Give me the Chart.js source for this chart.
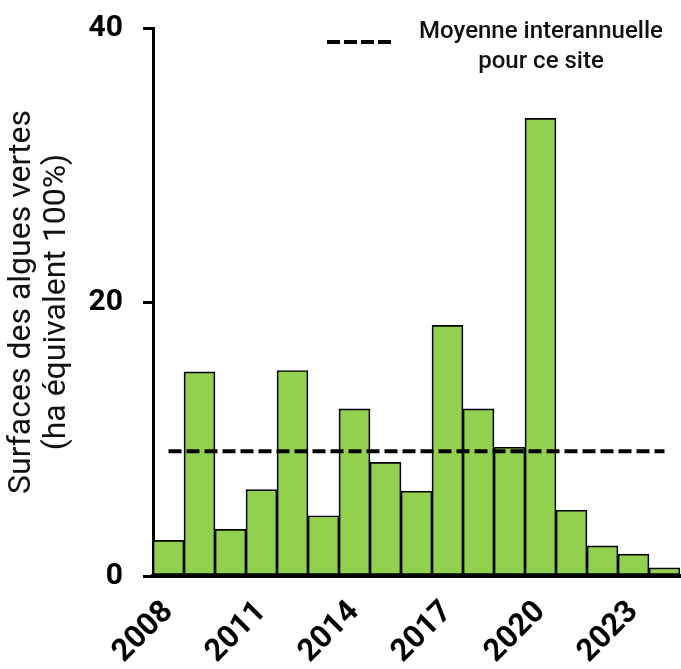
<!DOCTYPE html>
<html>
<head>
<meta charset="utf-8">
<script src="https://cdn.jsdelivr.net/npm/chart.js@4"></script>
<style>
    html, body { margin: 0; padding: 0; background: #fff; }
    #wrap { width: 681px; height: 669px; }
</style>
</head>
<body>
<div id="wrap"><canvas id="chart" width="681" height="669"></canvas></div>
<script>
// Chart data
const years = ['2008', '2009', '2010', '2011', '2012', '2013', '2014', '2015', '2016',
               '2017', '2018', '2019', '2020', '2021', '2022', '2023', '2024'];
const surfaces = [2.6, 14.9, 3.4, 6.3, 15.0, 4.4, 12.2, 8.3, 6.2,
                  18.3, 12.2, 9.4, 33.4, 4.8, 2.2, 1.6, 0.6];
const meanValue = 9.1;
const yTicks = [0, 20, 40];
const yTitle = ['Surfaces des algues vertes', '(ha équivalent 100%)'];
const legendLines = ['Moyenne interannuelle', 'pour ce site'];

// Draw the little dashed legend at the top right
const meanLegend = {
    id: 'meanLegend',
    afterDraw(chart) {
        const ctx = chart.ctx;
        ctx.save();
        ctx.strokeStyle = '#000';
        ctx.lineWidth = 4;
        ctx.setLineDash([13, 4]);
        ctx.beginPath();
        ctx.moveTo(327, 42);
        ctx.lineTo(391, 42);
        ctx.stroke();
        ctx.setLineDash([]);
        ctx.fillStyle = '#111';
        ctx.font = '500 24px Roboto';
        ctx.textAlign = 'center';
        ctx.textBaseline = 'alphabetic';
        ctx.fillText(legendLines[0], 541, 38);
        ctx.fillText(legendLines[1], 541, 68);
        ctx.restore();
    }
};

const ctx = document.getElementById('chart').getContext('2d');
new Chart(ctx, {
    data: {
        labels: years,
        datasets: [{
            type: 'line',
            label: legendLines.join(' '),
            data: years.map(() => meanValue),
            borderColor: '#000',
            borderWidth: 4,
            borderDash: [13, 5],
            pointRadius: 0,
            fill: false,
            order: 0
        }, {
            type: 'bar',
            label: 'Surfaces',
            data: surfaces,
            backgroundColor: '#92d050',
            borderColor: '#000',
            borderWidth: 1.7,
            borderSkipped: false,
            barPercentage: 1,
            categoryPercentage: 1,
            order: 1
        }]
    },
    options: {
        responsive: false,
        animation: false,
        devicePixelRatio: 1,
        layout: { padding: { left: 0, top: 28, right: 1, bottom: 0 } },
        plugins: {
            legend: { display: false },
            tooltip: { enabled: false }
        },
        scales: {
            x: {
                offset: true,
                grid: { display: false, drawTicks: false },
                border: { display: true, color: '#000', width: 4 },
                ticks: {
                    autoSkip: false,
                    maxRotation: 45,
                    minRotation: 45,
                    padding: 18,
                    color: '#000',
                    font: { family: 'Roboto', size: 31, weight: 'bold' },
                    callback: (v, i) => (i % 3 === 0 ? years[i] : '')
                },
                afterFit: s => {
                    s.height = 93;
                    s.paddingLeft = 0;
                    s.paddingRight = 0;
                }
            },
            y: {
                min: 0,
                max: 40,
                afterBuildTicks: s => { s.ticks = yTicks.map(v => ({ value: v })); },
                grid: {
                    drawOnChartArea: false,
                    drawTicks: true,
                    tickLength: 10,
                    lineWidth: 3,
                    color: '#000'
                },
                border: { display: true, color: '#000', width: 3 },
                ticks: {
                    padding: 20,
                    color: '#000',
                    font: { family: 'Roboto', size: 30, weight: 'bold' }
                },
                title: {
                    display: true,
                    text: yTitle,
                    color: '#111',
                    padding: { top: 4, bottom: 0 },
                    font: { family: 'Roboto', size: 32, lineHeight: 1.1 }
                },
                afterFit: s => {
                    s.width = 153;
                    s.paddingTop = 0;
                    s.paddingBottom = 0;
                }
            }
        }
    },
    plugins: [meanLegend]
});
</script>
</body>
</html>
